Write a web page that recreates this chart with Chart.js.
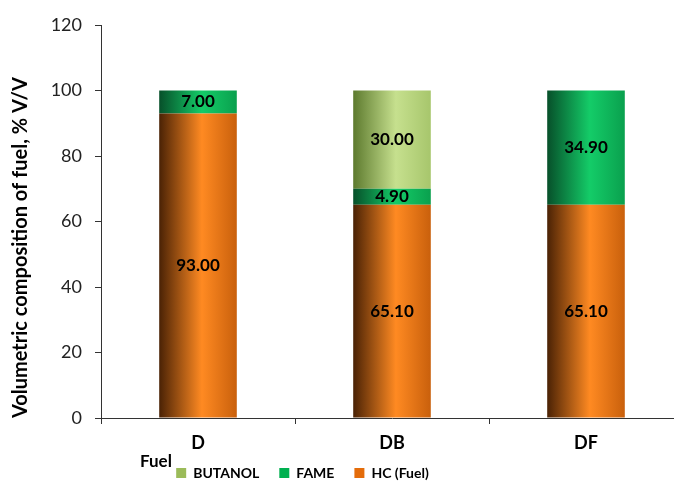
<!DOCTYPE html>
<html>
<head>
<meta charset="utf-8">
<script src="https://cdn.jsdelivr.net/npm/chart.js@4.4.1/dist/chart.umd.min.js"></script>
<style>
  html, body { margin: 0; padding: 0; background: #fff; overflow: hidden; }
  #wrap { width: 674px; height: 481px; overflow: hidden; }
  #wrap div { width: 690px; height: 481px; position: relative; }
</style>
</head>
<body>
<div id="wrap"><div><canvas id="fuelChart"></canvas></div></div>
<script>
// Datos del gráfico
const categories = ['D', 'DB', 'DF'];
const hcValues = [93.00, 65.10, 65.10];
const fameValues = [7.00, 4.90, 34.90];
const butanolValues = [null, 30.00, null];

// Colores: [oscuro, brillante, borde derecho, leyenda]
const hcColors = ['#4a2205', '#ff8a22', '#c9600c', '#e46c0a'];
const fameColors = ['#07502a', '#14cc68', '#0aa04e', '#00b050'];
const butanolColors = ['#5d7a2e', '#c6e08e', '#a7c66c', '#9bbb59'];

const BAR_PCT = 0.4;
const FONT = 'Lato, "Open Sans", sans-serif';

// Gradiente horizontal para cada barra (efecto cilindro)
function barGradient(colors) {
    return (context) => {
        const chart = context.chart;
        const xScale = chart.scales.x;
        if (!chart.chartArea || !xScale || context.dataIndex === undefined) return colors[3];
        const center = xScale.getPixelForValue(context.dataIndex);
        const w = (xScale.width / categories.length) * BAR_PCT;
        const g = chart.ctx.createLinearGradient(center - w / 2, 0, center + w / 2, 0);
        g.addColorStop(0, colors[0]);
        g.addColorStop(0.55, colors[1]);
        g.addColorStop(1, colors[2]);
        return g;
    };
}

// Etiquetas de valor dentro de cada segmento
const valueLabels = {
    id: 'valueLabels',
    afterDatasetsDraw(chart) {
        const ctx = chart.ctx;
        ctx.save();
        ctx.font = 'bold 17px ' + FONT;
        ctx.fillStyle = '#000';
        ctx.textAlign = 'center';
        ctx.textBaseline = 'middle';
        chart.data.datasets.forEach((ds, i) => {
            chart.getDatasetMeta(i).data.forEach((bar, j) => {
                const v = ds.data[j];
                if (v === null || v === undefined) return;
                ctx.fillText(v.toFixed(2), bar.x, (bar.y + bar.base) / 2);
            });
        });
        ctx.restore();
    }
};

// Texto "Fuel" bajo el eje X y ajuste de posición de la leyenda
const fuelLabel = {
    id: 'fuelLabel',
    afterLayout(chart) {
        const lg = chart.legend;
        if (lg) {
            lg.top -= 6;
            lg.bottom -= 6;
            lg.left -= 39;
            lg.right -= 39;
        }
    },
    afterDraw(chart) {
        const ctx = chart.ctx;
        ctx.save();
        ctx.font = 'bold 17px ' + FONT;
        ctx.fillStyle = '#000';
        ctx.textAlign = 'left';
        ctx.textBaseline = 'middle';
        ctx.fillText('Fuel', chart.chartArea.left + 39, 462);
        ctx.restore();
    }
};

const data = {
    labels: categories,
    datasets: [
        { label: 'HC (Fuel)', data: hcValues, backgroundColor: barGradient(hcColors), legendColor: hcColors[3] },
        { label: 'FAME', data: fameValues, backgroundColor: barGradient(fameColors), legendColor: fameColors[3] },
        { label: 'BUTANOL', data: butanolValues, backgroundColor: barGradient(butanolColors), legendColor: butanolColors[3] }
    ]
};

const config = {
    type: 'bar',
    data: data,
    options: {
        responsive: true,
        maintainAspectRatio: false,
        animation: false,
        layout: { padding: { top: 25, right: 7, left: 0, bottom: -15 } },
        datasets: {
            bar: { categoryPercentage: 1.0, barPercentage: BAR_PCT, borderWidth: 0 }
        },
        scales: {
            x: {
                stacked: true,
                afterFit: (scale) => { scale.height = 34; },
                grid: { display: true, drawOnChartArea: false, color: '#333', tickLength: 6, offset: true },
                border: { color: '#333', width: 1 },
                ticks: { color: '#000', font: { family: FONT, size: 18, weight: 'bold' }, padding: 8 }
            },
            y: {
                stacked: true,
                min: 0,
                max: 120,
                afterFit: (scale) => { scale.width = 101; },
                grid: { display: true, drawOnChartArea: false, color: '#333', tickLength: 6 },
                border: { color: '#333', width: 1 },
                ticks: { stepSize: 20, color: '#222', font: { family: FONT, size: 18 }, padding: 13 },
                title: {
                    display: true,
                    align: 'start',
                    text: 'Volumetric composition of fuel, % V/V',
                    color: '#000',
                    font: { family: FONT, size: 20, weight: 'bold' },
                    padding: { top: 9, bottom: 0 }
                }
            }
        },
        plugins: {
            legend: {
                position: 'bottom',
                reverse: true,
                labels: {
                    boxWidth: 10,
                    boxHeight: 10,
                    padding: 20,
                    color: '#000',
                    font: { family: FONT, size: 14, weight: 'bold' },
                    generateLabels(chart) {
                        const items = Chart.defaults.plugins.legend.labels.generateLabels(chart);
                        items.forEach(it => {
                            const c = chart.data.datasets[it.datasetIndex].legendColor;
                            it.fillStyle = c;
                            it.strokeStyle = c;
                            it.lineWidth = 0;
                        });
                        return items;
                    }
                }
            },
            tooltip: { enabled: false }
        }
    },
    plugins: [valueLabels, fuelLabel]
};

// Crear el gráfico
const ctx = document.getElementById('fuelChart').getContext('2d');
new Chart(ctx, config);
</script>
</body>
</html>
